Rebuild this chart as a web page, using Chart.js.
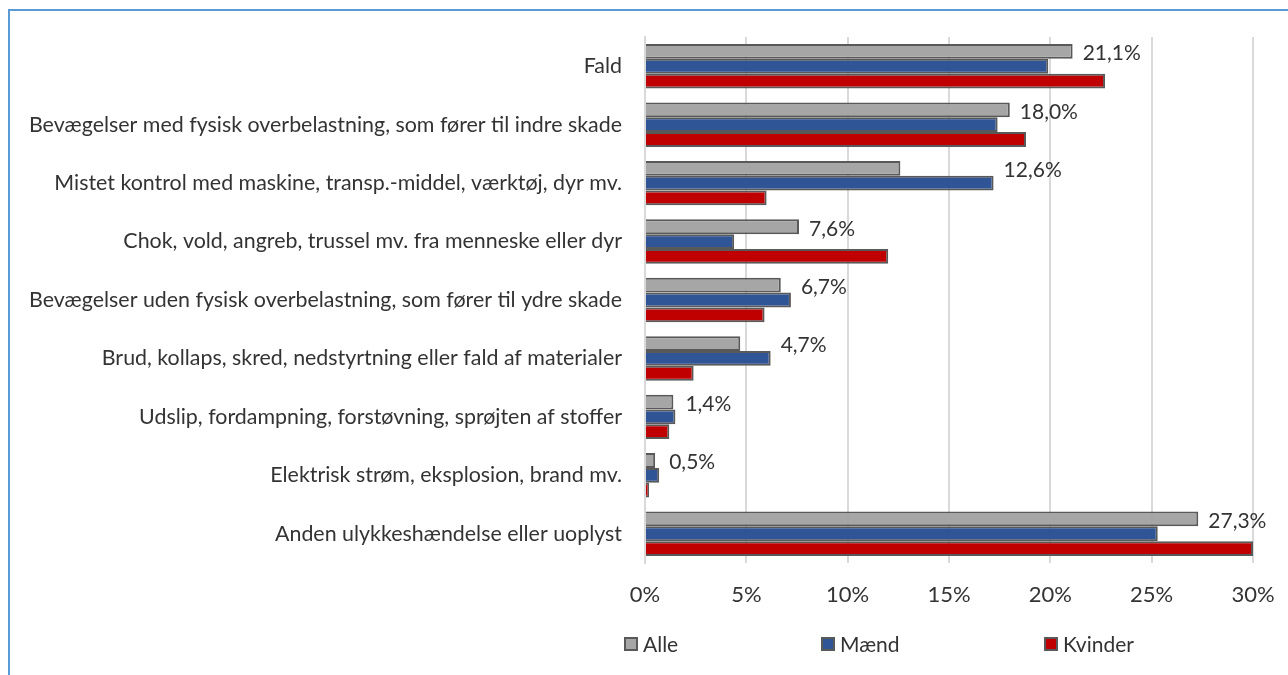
<!DOCTYPE html>
<html>
<head>
<meta charset="utf-8">
<script src="https://cdn.jsdelivr.net/npm/chart.js@4"></script>
<style>
  html, body { margin: 0; padding: 0; background: #fff; }
  #wrap { position: relative; width: 1288px; height: 675px; overflow: hidden; }
  #frame { position: absolute; left: 8px; top: 9px; width: 1320px; height: 720px;
           border: 2px solid #5b9bd5; box-sizing: border-box; }
  canvas { position: absolute; left: 0; top: 0; }
  .lg { position: absolute; top: 631px; height: 26px; display: flex; align-items: center;
        font-family: Lato, sans-serif; font-size: 21px; color: #333; line-height: 26px; }
  .lg span.box { display: inline-block; width: 10px; height: 10px; border: 2px solid #595959; margin-right: 5px; }
</style>
</head>
<body>
<div id="wrap">
  <div id="frame"></div>
  <canvas id="c" width="1288" height="675"></canvas>
  <div id="legend"></div>
</div>
<script>
const categories = [
  "Fald",
  "Bevægelser med fysisk overbelastning, som fører til indre skade",
  "Mistet kontrol med maskine, transp.-middel, værktøj, dyr mv.",
  "Chok, vold, angreb, trussel mv. fra menneske eller dyr",
  "Bevægelser uden fysisk overbelastning, som fører til ydre skade",
  "Brud, kollaps, skred, nedstyrtning eller fald af materialer",
  "Udslip, fordampning, forstøvning, sprøjten af stoffer",
  "Elektrisk strøm, eksplosion, brand mv.",
  "Anden ulykkeshændelse eller uoplyst"
];
const seriesNames = ["Alle", "Mænd", "Kvinder"];
const alle    = [21.1, 18.0, 12.6, 7.6, 6.7, 4.7, 1.4, 0.5, 27.3];
const maend   = [19.9, 17.4, 17.2, 4.4, 7.2, 6.2, 1.5, 0.7, 25.3];
const kvinder = [22.7, 18.8, 6.0, 12.0, 5.9, 2.4, 1.2, 0.2, 30.0];
const xTicks = [0, 5, 10, 15, 20, 25, 30];
const colors = ["#a6a6a6", "#2f5597", "#c00000"];

const FONT = "Lato, sans-serif";
const TXT = "#333333";

const fmt = v => v.toFixed(1).replace('.', ',') + '%';

// Value labels for "Alle", placed just right of the longer of the Alle/Mænd bars
const labelPlugin = {
  id: 'alleLabels',
  afterDatasetsDraw(chart) {
    const ctx = chart.ctx;
    const m0 = chart.getDatasetMeta(0);
    const m1 = chart.getDatasetMeta(1);
    ctx.save();
    ctx.font = '21px ' + FONT;
    ctx.fillStyle = TXT;
    ctx.textAlign = 'left';
    ctx.textBaseline = 'middle';
    m0.data.forEach((el, i) => {
      const xEnd = Math.max(el.x, m1.data[i].x);
      ctx.fillText(fmt(chart.data.datasets[0].data[i]), xEnd + 10, el.y + 2);
    });
    ctx.restore();
  }
};

const datasets = [alle, maend, kvinder].map((d, i) => ({
  label: seriesNames[i],
  data: d,
  backgroundColor: colors[i],
  borderColor: '#595959',
  borderWidth: 2,
  borderSkipped: 'start',
  categoryPercentage: 0.76,
  barPercentage: 1.0
}));

const chart = new Chart(document.getElementById('c'), {
  type: 'bar',
  data: { labels: categories, datasets },
  options: {
    indexAxis: 'y',
    responsive: false,
    animation: false,
    devicePixelRatio: 1,
    layout: { padding: { left: 0, right: 35, top: 37, bottom: 0 } },
    plugins: { legend: { display: false }, tooltip: { enabled: false } },
    scales: {
      x: {
        min: 0, max: 30,
        afterBuildTicks: s => { s.ticks = xTicks.map(v => ({ value: v })); },
        afterFit: s => { s.height = 112; s.paddingLeft = 0; s.paddingRight = 0; },
        ticks: { callback: v => v + '%', font: { family: FONT, size: 22 }, color: TXT, padding: 19 },
        grid: { color: '#d9d9d9', lineWidth: 2, drawTicks: false },
        border: { display: false }
      },
      y: {
        afterFit: s => { s.width = 645; },
        ticks: { font: { family: FONT, size: 21.4 }, color: TXT, padding: 23 },
        grid: { display: false, drawTicks: false },
        border: { display: true, color: '#d9d9d9', width: 2 }
      }
    }
  },
  plugins: [labelPlugin]
});

// Legend built from the chart's datasets
const legendX = [624, 821, 1044];
const lg = document.getElementById('legend');
chart.data.datasets.forEach((ds, i) => {
  const d = document.createElement('div');
  d.className = 'lg';
  d.style.left = legendX[i] + 'px';
  const b = document.createElement('span');
  b.className = 'box';
  b.style.background = ds.backgroundColor;
  d.appendChild(b);
  const t = document.createElement('span');
  t.textContent = ds.label;
  d.appendChild(t);
  lg.appendChild(d);
});
</script>
</body>
</html>
